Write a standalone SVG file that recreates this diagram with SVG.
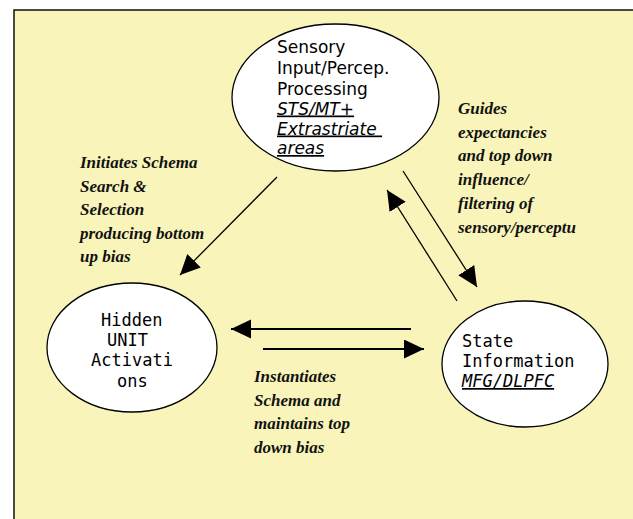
<svg xmlns="http://www.w3.org/2000/svg" width="633" height="519" viewBox="0 0 633 519">
<defs>
<style>
.bg{fill:#F9F5BA;stroke:#111;stroke-width:1.5}
.node{fill:#fff;stroke:#000;stroke-width:1.3}
.sans{font-family:"DejaVu Sans","Noto Sans",sans-serif;font-size:17px;fill:#000}
.mono{font-family:"DejaVu Sans Mono","Liberation Mono",monospace;font-size:17px;fill:#000}
.u{font-style:italic;text-decoration:underline}
.lbl{font-family:"Liberation Serif","Times New Roman",serif;font-size:17px;font-weight:bold;font-style:italic;fill:#111}
.thin{stroke:#000;stroke-width:1.3;fill:none}
.thick{stroke:#000;stroke-width:2.2;fill:none}
</style>
<marker id="ah" markerUnits="userSpaceOnUse" markerWidth="21" markerHeight="20" refX="20" refY="9.5" orient="auto">
<path d="M0,0 L20,9.5 L0,19 z" fill="#000"/>
</marker>
</defs>
<rect class="bg" x="14" y="10" width="640" height="530"/>

<g id="connectors">
<line class="thin" x1="277" y1="177" x2="180" y2="275" marker-end="url(#ah)"/>
<line class="thin" x1="457" y1="301" x2="387" y2="190" marker-end="url(#ah)"/>
<line class="thin" x1="403" y1="171" x2="477" y2="287" marker-end="url(#ah)"/>
<line class="thick" x1="411" y1="329" x2="231" y2="329" marker-end="url(#ah)"/>
<line class="thick" x1="263" y1="349" x2="424" y2="349" marker-end="url(#ah)"/>
</g>

<g id="sensory">
<ellipse class="node" cx="335.5" cy="97.5" rx="103.5" ry="73.5"/>
<text class="sans" style="white-space:pre">
<tspan x="277" y="53">Sensory</tspan>
<tspan x="277" y="74">Input/Percep.</tspan>
<tspan x="277" y="94.5">Processing</tspan>
<tspan x="277" y="114.5" class="u">STS/MT+</tspan>
<tspan x="277" y="134.5" class="u">Extrastriate </tspan>
<tspan x="277" y="154" class="u">areas</tspan>
</text>
</g>

<g id="hidden">
<ellipse class="node" cx="132" cy="347.5" rx="85" ry="64.5"/>
<text class="mono" style="white-space:pre">
<tspan x="101" y="326">Hidden</tspan>
<tspan x="107" y="346">UNIT</tspan>
<tspan x="91" y="366">Activati</tspan>
<tspan x="117" y="386.5">ons</tspan>
</text>
</g>

<g id="state">
<ellipse class="node" cx="525" cy="364" rx="83" ry="63"/>
<text class="mono">
<tspan x="462" y="347">State</tspan>
<tspan x="462" y="367">Information</tspan>
<tspan x="462" y="387" class="u">MFG/DLPFC</tspan>
</text>
</g>

<g id="label-bottom-up">
<text class="lbl">
<tspan x="80" y="168">Initiates Schema</tspan>
<tspan x="80" y="192">Search &amp;</tspan>
<tspan x="80" y="215">Selection</tspan>
<tspan x="80" y="239">producing bottom</tspan>
<tspan x="80" y="262">up bias</tspan>
</text>
</g>

<g id="label-guides">
<text class="lbl">
<tspan x="458" y="114">Guides</tspan>
<tspan x="458" y="137.5">expectancies</tspan>
<tspan x="458" y="161">and top down</tspan>
<tspan x="458" y="185">influence/</tspan>
<tspan x="458" y="209">filtering of</tspan>
<tspan x="458" y="233">sensory/perceptu</tspan>
</text>
</g>

<g id="label-instantiates">
<text class="lbl">
<tspan x="254" y="382">Instantiates</tspan>
<tspan x="254" y="405.5">Schema and</tspan>
<tspan x="254" y="429">maintains top</tspan>
<tspan x="254" y="452.5">down bias</tspan>
</text>
</g>
</svg>
